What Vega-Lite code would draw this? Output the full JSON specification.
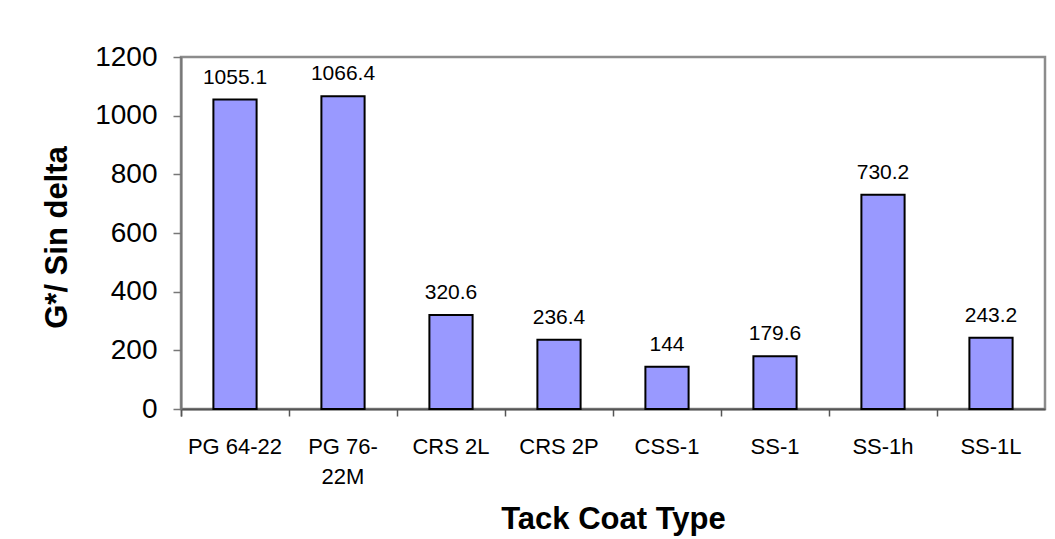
{
  "$schema": "https://vega.github.io/schema/vega-lite/v6.json",
  "width": 864,
  "height": 352,
  "autosize": {"type": "none"},
  "padding": {"left": 181, "top": 57, "right": 10, "bottom": 130},
  "background": "white",
  "config": {
    "font": "Liberation Sans",
    "view": {"stroke": "#8c8c8c", "strokeWidth": 2.5},
    "axis": {"grid": false}
  },
  "data": {
    "values": [
      {"type": "PG 64-22", "value": 1055.1},
      {"type": "PG 76-22M", "value": 1066.4},
      {"type": "CRS 2L", "value": 320.6},
      {"type": "CRS 2P", "value": 236.4},
      {"type": "CSS-1", "value": 144},
      {"type": "SS-1", "value": 179.6},
      {"type": "SS-1h", "value": 730.2},
      {"type": "SS-1L", "value": 243.2}
    ]
  },
  "encoding": {
    "x": {
      "field": "type",
      "type": "nominal",
      "sort": null,
      "scale": {"paddingInner": 0, "paddingOuter": 0},
      "axis": {
        "title": "Tack Coat Type",
        "titleFontSize": 31,
        "titleFontWeight": "bold",
        "titleColor": "black",
        "titleBaseline": "alphabetic",
        "titleY": 119,
        "labelAngle": 0,
        "labelFontSize": 22,
        "labelColor": "black",
        "labelPadding": 20,
        "labelLineHeight": 30,
        "labelExpr": "datum.label == 'PG 76-22M' ? ['PG 76-', '22M'] : datum.label",
        "bandPosition": 0,
        "tickExtra": true,
        "tickSize": 7,
        "tickColor": "#555555",
        "tickWidth": 1.5,
        "domainColor": "#555555",
        "domainWidth": 2
      }
    },
    "y": {
      "field": "value",
      "type": "quantitative",
      "scale": {"domain": [0, 1200], "nice": false},
      "axis": {
        "title": "G*/ Sin delta",
        "titleFontSize": 31,
        "titleFontWeight": "bold",
        "titleColor": "black",
        "titleBaseline": "alphabetic",
        "titleX": -115,
        "titleY": 180,
        "values": [0, 200, 400, 600, 800, 1000, 1200],
        "format": "d",
        "labelFontSize": 28,
        "labelColor": "black",
        "labelPadding": 16,
        "tickSize": 8,
        "tickColor": "#777777",
        "tickWidth": 1.5,
        "domainColor": "#777777",
        "domainWidth": 2
      }
    }
  },
  "layer": [
    {
      "mark": {"type": "bar", "fill": "#9999FF", "stroke": "black", "strokeWidth": 2, "width": {"band": 0.4}}
    },
    {
      "mark": {"type": "text", "baseline": "alphabetic", "dy": -16, "fontSize": 21, "color": "black"},
      "encoding": {"text": {"field": "value", "type": "quantitative", "format": ""}}
    }
  ]
}
